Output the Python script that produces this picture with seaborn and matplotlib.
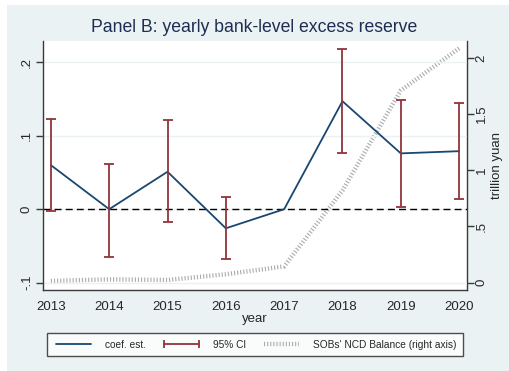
import matplotlib
matplotlib.use("Agg")
import matplotlib.pyplot as plt
from matplotlib.lines import Line2D
from matplotlib.patches import Rectangle
import seaborn as sns
import pandas as pd

# Event-study estimates by year
years = [2013, 2014, 2015, 2016, 2017, 2018, 2019, 2020]
coef = [0.060, 0.0, 0.051, -0.026, 0.0, 0.147, 0.076, 0.079]
ci_low = [-0.002, -0.065, -0.017, -0.068, None, 0.077, 0.003, 0.014]
ci_high = [0.123, 0.061, 0.121, 0.016, None, 0.218, 0.148, 0.145]
# State-owned banks' NCD balance, trillion yuan
ncd_balance = [0.015, 0.03, 0.024, 0.075, 0.145, 0.82, 1.71, 2.085]

left_ticks = [-0.1, 0.0, 0.1, 0.2]
left_labels = ["-.1", "0", ".1", ".2"]
right_ticks = [0.0, 0.5, 1.0, 1.5, 2.0]
right_labels = ["0", ".5", "1", "1.5", "2"]

NAVY = "#1a476f"
MAROON = "#90353b"
HATCH = "#ababab"
BG = "#eaf2f3"
AXC = "#3a3a3a"

sns.set_style("white")
plt.rcParams["font.family"] = ["Liberation Sans", "DejaVu Sans"]

df = pd.DataFrame({"year": years, "coef": coef, "ncd": ncd_balance})
ci = pd.DataFrame({"year": years, "lo": ci_low, "hi": ci_high}).dropna()

fig = plt.figure(figsize=(5.10, 3.71), dpi=100)
fig.patch.set_facecolor("white")
fig.patches.append(Rectangle((7 / 510, 0), 1 - 7 / 510, 1 - 5 / 371,
                             transform=fig.transFigure, facecolor=BG,
                             edgecolor="none", zorder=-10))

ax = fig.add_axes([42.7 / 510, 1 - 290 / 371, (466.7 - 42.7) / 510, (290 - 41) / 371])
ax.set_facecolor("white")
ax2 = ax.twinx()

# Gridlines on the left scale
for t in left_ticks:
    ax.axhline(t, color=BG, lw=1.0, zorder=0)
ax.axhline(0, color="black", lw=1.0, ls=(0, (5, 3)), zorder=1)

# NCD balance on the right axis, drawn as a striped band
sns.lineplot(data=df, x="year", y="ncd", ax=ax2, color=HATCH, lw=3.2,
             linestyle=(0, (0.25, 0.45)), solid_capstyle="butt")

# Coefficients and confidence intervals on the left axis
sns.lineplot(data=df, x="year", y="coef", ax=ax, color=NAVY, lw=1.3, zorder=3)
ax.errorbar(ci["year"], (ci["lo"] + ci["hi"]) / 2,
            yerr=[(ci["hi"] - ci["lo"]) / 2, (ci["hi"] - ci["lo"]) / 2],
            fmt="none", ecolor=MAROON, elinewidth=1.3, capsize=3.5,
            capthick=1.3, zorder=4)

ax.set_zorder(ax2.get_zorder() + 1)
ax.patch.set_visible(False)
ax2.set_facecolor("white")
ax2.patch.set_visible(True)

ax.set_xlim(2012.86, 2020.13)
ax.set_ylim(-0.110, 0.229)
ax2.set_ylim(-0.065, 2.150)

ax.set_xticks(years)
ax.set_xticklabels([str(y) for y in years], fontsize=9.5)
ax.set_yticks(left_ticks)
ax.set_yticklabels(left_labels, fontsize=9.5, rotation=90, va="center")
ax2.set_yticks(right_ticks)
ax2.set_yticklabels(right_labels, fontsize=9.5, rotation=90, va="center")

ax.set_xlabel("year", fontsize=9.5, labelpad=0)
ax.set_ylabel("")
ax2.set_ylabel("trillion yuan", fontsize=9.5, labelpad=2)

for a in (ax, ax2):
    a.tick_params(direction="out", length=5, width=1, color=AXC, pad=3)
    for s in a.spines.values():
        s.set_color(AXC)
        s.set_linewidth(1.0)
    a.spines["top"].set_visible(False)
ax.tick_params(axis="y", pad=2)
ax2.tick_params(axis="y", pad=1.5)
ax2.spines["left"].set_visible(False)
ax2.spines["bottom"].set_visible(False)
ax.spines["right"].set_visible(False)

fig.text(0.499, 1 - 28 / 371, "Panel B: yearly bank-level excess reserve",
         ha="center", va="center", fontsize=12.7, color="#1e2d53")

handles = [
    Line2D([], [], color=NAVY, lw=1.3),
    Line2D([], [], color=MAROON, lw=1.3, marker="|", markersize=6, markeredgewidth=1.3),
    Line2D([], [], color=HATCH, lw=3.2, linestyle=(0, (0.25, 0.45))),
]
labels = ["coef. est.", "95% CI", "SOBs' NCD Balance (right axis)"]
leg = fig.legend(handles, labels, ncol=3, loc="center",
                 bbox_to_anchor=(255 / 510, 1 - 344.5 / 371),
                 fontsize=7.3, frameon=True, fancybox=False, numpoints=2,
                 handlelength=4.0, handletextpad=1.15, columnspacing=1.45,
                 borderpad=0.6, borderaxespad=0)
leg.get_frame().set_edgecolor("#222222")
leg.get_frame().set_linewidth(1.0)
leg.get_frame().set_facecolor("white")

fig.savefig("out.png", dpi=100, facecolor=fig.get_facecolor())
